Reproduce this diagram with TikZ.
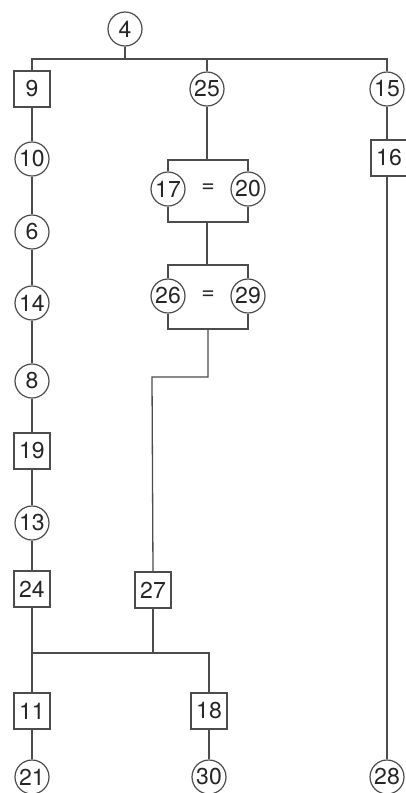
\documentclass[tikz,border=0pt]{standalone}
\usepackage{fontspec}
\setmainfont{TeX Gyre Heros}
\begin{document}
\begin{tikzpicture}[x=1pt,y=-1pt,
  every node/.style={font=\fontsize{23}{23}\selectfont, text=black!85},
  circ/.style={circle,draw=black!70,line width=1.2pt,minimum size=34pt,inner sep=0pt},
  sq/.style={rectangle,draw=black!70,line width=1.2pt,minimum size=36pt,inner sep=0pt},
  ln/.style={draw=black!70,line width=1.3pt}]
\useasboundingbox (0,0) rectangle (405,793);
% nodes
\node[circ] (n4) at (125,29) {4};
\node[sq] (n9) at (32,89) {9};
\node[circ] (n25) at (207,89) {25};
\node[circ] (n15) at (387,89) {15};
\node[circ] (n10) at (32,159) {10};
\node[sq] (n16) at (389,158) {16};
\node[circ] (n17) at (168,189) {17};
\node[circ] (n20) at (248,189) {20};
\node (eq1) at (208,188) {=};
\node[circ] (n6) at (32,232) {6};
\node[circ] (n14) at (32,303) {14};
\node[circ] (n26) at (168,296) {26};
\node[circ] (n29) at (248,296) {29};
\node (eq2) at (208,295) {=};
\node[circ] (n8) at (32,381) {8};
\node[sq] (n19) at (32,451) {19};
\node[circ] (n13) at (32,523) {13};
\node[sq] (n24) at (32,589) {24};
\node[sq] (n27) at (153,590) {27};
\node[sq] (n11) at (32,711) {11};
\node[sq] (n18) at (209,711) {18};
\node[circ] (n21) at (32,777) {21};
\node[circ] (n30) at (209,777) {30};
\node[circ] (n28) at (387,777) {28};
% helper coordinates
\coordinate (bar) at (0,59);
\coordinate (b1t) at (0,160);
\coordinate (b1b) at (0,222);
\coordinate (b2t) at (0,265);
\coordinate (b2b) at (0,329);
\coordinate (k1) at (208,377);
\coordinate (k2) at (152,377);
\coordinate (bar2) at (0,653);
% connectors
\draw[ln] (n4.south) -- (n4.south |- bar);
\draw[ln] (n9.north) -- (n9.north |- bar) -- (n15.north |- bar) -- (n15.north);
\draw[ln] (n25.north) -- (n25.north |- bar);
% left chain
\draw[ln] (n9) -- (n10);
\draw[ln] (n10) -- (n6);
\draw[ln] (n6) -- (n14);
\draw[ln] (n14) -- (n8);
\draw[ln] (n8) -- (n19);
\draw[ln] (n19) -- (n13);
\draw[ln] (n13) -- (n24);
% middle
\draw[ln] (n25.south) -- (n25.south |- b1t);
\draw[ln] (n17.north) -- (n17.north |- b1t) -- (n20.north |- b1t) -- (n20.north);
\draw[ln] (n17.south) -- (n17.south |- b1b) -- (n20.south |- b1b) -- (n20.south);
\draw[ln] (n25.south |- b1b) -- (n25.south |- b2t);
\draw[ln] (n26.north) -- (n26.north |- b2t) -- (n29.north |- b2t) -- (n29.north);
\draw[ln] (n26.south) -- (n26.south |- b2b) -- (n29.south |- b2b) -- (n29.south);
\draw[ln] (k1 |- b2b) -- (k1) -- (k2) -- (n27.north);
% right
\draw[ln] (n15) -- (n15 |- n16.north);
\draw[ln] (n15 |- n16.south) -- (n28);
% bottom
\draw[ln] (n24.south) -- (n24.south |- bar2) -- (n18.north |- bar2) -- (n18.north);
\draw[ln] (n27.south) -- (n27.south |- bar2);
\draw[ln] (n24.south |- bar2) -- (n11.north);
\draw[ln] (n11) -- (n21);
\draw[ln] (n18) -- (n30);
\end{tikzpicture}
\end{document}
